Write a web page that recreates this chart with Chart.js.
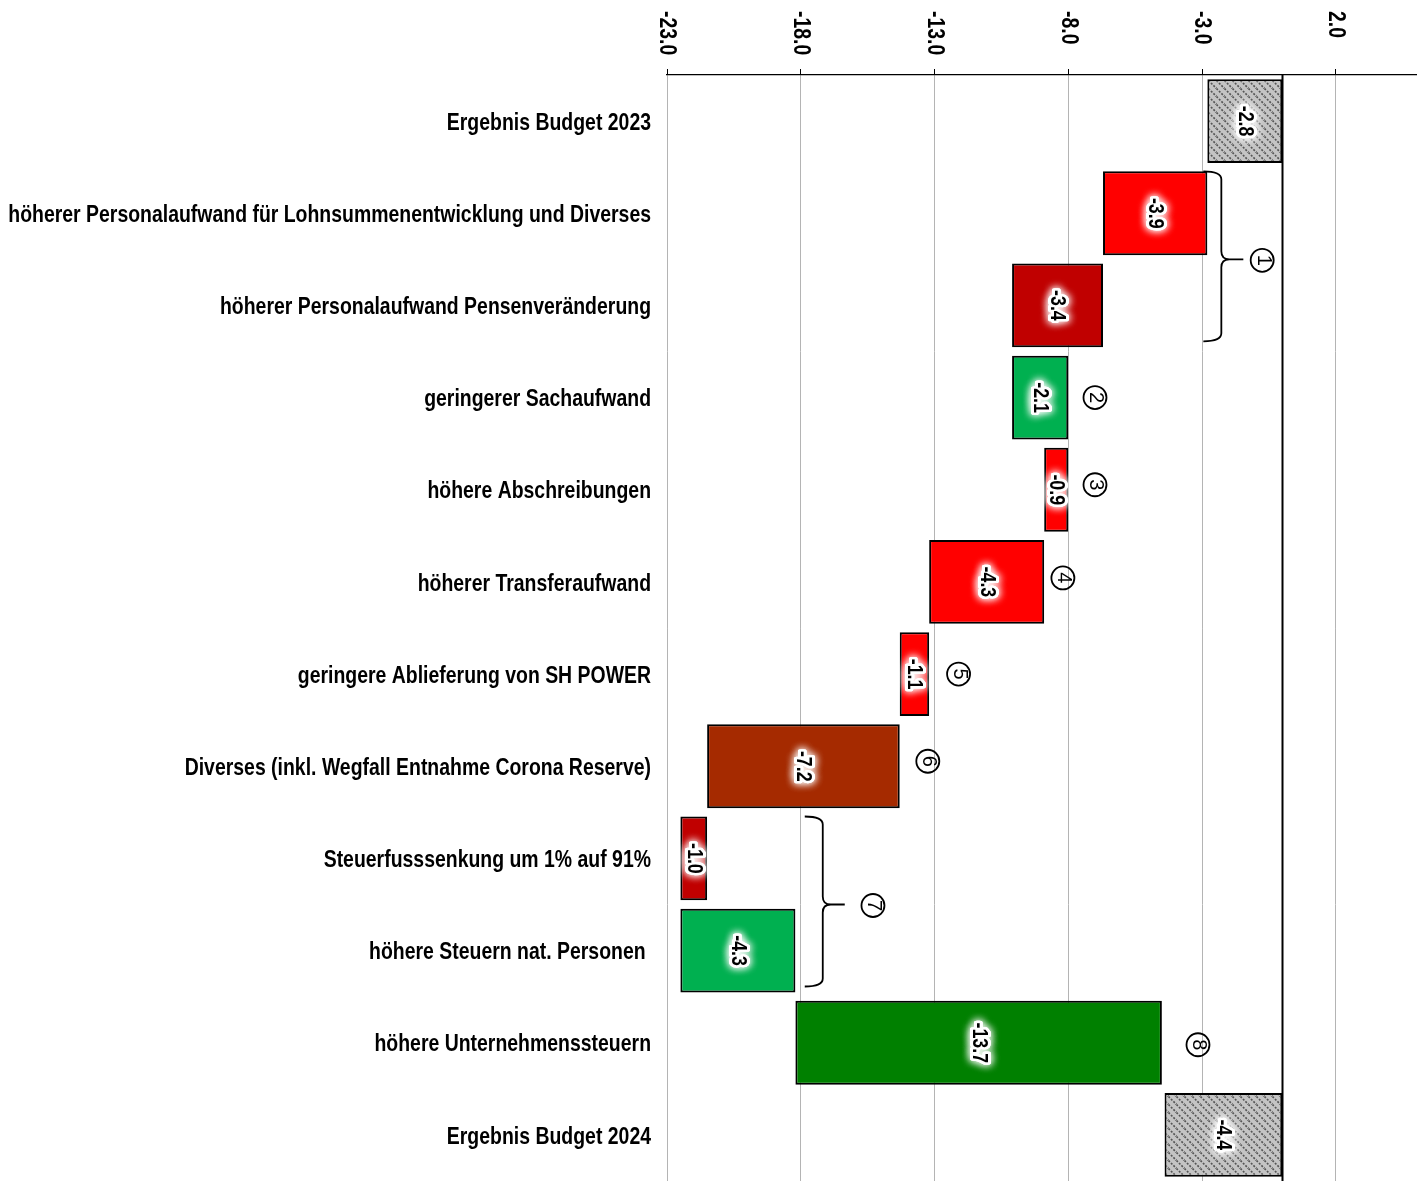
<!DOCTYPE html>
<html>
<head>
<meta charset="utf-8">
<script src="https://cdn.jsdelivr.net/npm/chart.js@4"></script>
<style>
  html, body { margin: 0; padding: 0; background: #fff; overflow: hidden; }
  canvas { display: block; }
</style>
</head>
<body>
<canvas id="chart" width="1423" height="1188"></canvas>
<script>
/* Budget bridge 2023 -> 2024, horizontal waterfall */

var categories = [
  'Ergebnis Budget 2023',
  'höherer Personalaufwand für Lohnsummenentwicklung und Diverses',
  'höherer Personalaufwand Pensenveränderung',
  'geringerer Sachaufwand',
  'höhere Abschreibungen',
  'höherer Transferaufwand',
  'geringere Ablieferung von SH POWER',
  'Diverses (inkl. Wegfall Entnahme Corona Reserve)',
  'Steuerfusssenkung um 1% auf 91%',
  'höhere Steuern nat. Personen ',
  'höhere Unternehmenssteuern',
  'Ergebnis Budget 2024'
];
var amounts = [-2.8, -3.9, -3.4, -2.1, -0.9, -4.3, -1.1, -7.2, -1.0, -4.3, -13.7, -4.4];
// total = start/end bar, gain = bar runs to the right
var kinds = ['total', 'loss', 'loss2', 'gain', 'loss', 'loss', 'loss', 'misc', 'loss2', 'gain', 'gain2', 'total'];
var xTicks = [-23, -18, -13, -8, -3, 2];

// no narrow face installed: squeeze Liberation Sans horizontally instead
var FONT = "'Liberation Sans', Arial, sans-serif";
var NARROW = 0.81;

function hatch() {
  var c = document.createElement('canvas');
  c.width = 8; c.height = 8;
  var g = c.getContext('2d');
  g.fillStyle = '#c4c4c4';
  g.fillRect(0, 0, 8, 8);
  g.strokeStyle = '#555';
  g.lineWidth = 1.6;
  g.setLineDash([2, 1.5]);
  g.beginPath();
  g.moveTo(-2, -2); g.lineTo(10, 10);
  g.moveTo(-6, 2); g.lineTo(6, 14);
  g.moveTo(2, -6); g.lineTo(14, 6);
  g.stroke();
  return g.createPattern(c, 'repeat');
}

var kindColor = {
  total: hatch(),
  loss:  '#ff0000',
  loss2: '#c00000',
  gain:  '#00b050',
  gain2: '#008000',
  misc:  '#a52a00'
};

// floating ranges for each step
var run = 0;
var ranges = amounts.map(function(v, i) {
  if (kinds[i] === 'total') {
    run = v;
    return [v, 0];
  }
  var step = (kinds[i] === 'gain' || kinds[i] === 'gain2') ? -v : v;
  var start = run;
  run = Math.round((run + step) * 10) / 10;
  return [start, run];
});

function fmt(v) { return v.toFixed(1); }

// text turned 90° clockwise, squeezed along its baseline
function rotText(ctx, txt, x, y, align, squeeze) {
  ctx.save();
  ctx.translate(x, y);
  ctx.rotate(Math.PI / 2);
  ctx.scale(squeeze || 1, 1);
  ctx.textAlign = align || 'center';
  ctx.textBaseline = 'middle';
  ctx.fillText(txt, 0, 0);
  ctx.restore();
}

function circled(ctx, digit, x, y) {
  ctx.save();
  ctx.strokeStyle = '#000';
  ctx.lineWidth = 1.8;
  ctx.beginPath();
  ctx.arc(x, y, 11.5, 0, Math.PI * 2);
  ctx.stroke();
  ctx.font = '20px ' + FONT;
  ctx.fillStyle = '#000';
  rotText(ctx, digit, x + 1, y, 'center', 1);
  ctx.restore();
}

var extras = {
  id: 'extras',
  afterDatasetsDraw: function(chart) {
    var ctx = chart.ctx, xs = chart.scales.x, ys = chart.scales.y, a = chart.chartArea;

    // zero line
    var x0 = Math.round(xs.getPixelForValue(0)) + 0.5;
    ctx.save();
    ctx.strokeStyle = '#000';
    ctx.lineWidth = 2;
    ctx.beginPath();
    ctx.moveTo(x0, a.top);
    ctx.lineTo(x0, a.bottom);
    ctx.stroke();
    ctx.restore();

    // category labels
    ctx.save();
    ctx.font = 'bold 24px ' + FONT;
    ctx.fillStyle = '#000';
    ctx.textAlign = 'right';
    ctx.textBaseline = 'middle';
    categories.forEach(function(c, i) {
      ctx.save();
      ctx.translate(a.left - 16, ys.getPixelForValue(i) + 2);
      ctx.scale(NARROW, 1);
      ctx.fillText(c, 0, 0);
      ctx.restore();
    });
    ctx.restore();

    // value labels with white halo
    var meta = chart.getDatasetMeta(0);
    ctx.save();
    ctx.font = 'bold 22px ' + FONT;
    meta.data.forEach(function(bar, i) {
      var txt = fmt(amounts[i]);
      var p = bar.getCenterPoint();
      ctx.save();
      ctx.translate(p.x, p.y);
      ctx.rotate(Math.PI / 2);
      ctx.scale(NARROW, 1);
      ctx.textAlign = 'center';
      ctx.textBaseline = 'middle';
      ctx.shadowColor = '#fff';
      ctx.shadowBlur = 8;
      ctx.strokeStyle = '#fff';
      ctx.lineWidth = 6;
      ctx.lineJoin = 'round';
      ctx.strokeText(txt, 0, 0);
      ctx.strokeText(txt, 0, 0);
      ctx.shadowBlur = 0;
      ctx.fillStyle = '#000';
      ctx.fillText(txt, 0, 0);
      ctx.restore();
    });
    ctx.restore();

    // x tick labels, rotated
    ctx.save();
    ctx.font = 'bold 24px ' + FONT;
    ctx.fillStyle = '#000';
    xTicks.forEach(function(v) {
      rotText(ctx, fmt(v), xs.getPixelForValue(v), 11, 'left', NARROW);
    });
    ctx.restore();

    // braces grouping rows
    var braces = [
      { from: 1, to: 2, at: -2.95, mark: '1', markAt: -0.75 },
      { from: 8, to: 9, at: -17.85, mark: '7', markAt: -15.3 }
    ];
    var step = ys.getPixelForValue(1) - ys.getPixelForValue(0);
    var inset = step * 0.91 / 2;
    ctx.save();
    ctx.strokeStyle = '#000';
    ctx.lineWidth = 1.8;
    braces.forEach(function(b) {
      var bx = xs.getPixelForValue(b.at);
      var top = ys.getPixelForValue(b.from) - inset;
      var bot = ys.getPixelForValue(b.to) + inset - 6;
      var mid = (top + bot) / 2 + 3;
      var w = 18, r = 8;
      ctx.beginPath();
      ctx.moveTo(bx, top);
      ctx.quadraticCurveTo(bx + w, top, bx + w, top + r);
      ctx.lineTo(bx + w, mid - r);
      ctx.quadraticCurveTo(bx + w, mid, bx + w + 8, mid);
      ctx.lineTo(bx + w + 22, mid);
      ctx.moveTo(bx + w + 8, mid);
      ctx.quadraticCurveTo(bx + w, mid, bx + w, mid + r);
      ctx.lineTo(bx + w, bot - r);
      ctx.quadraticCurveTo(bx + w, bot, bx, bot);
      ctx.stroke();
      circled(ctx, b.mark, xs.getPixelForValue(b.markAt), mid + 1);
    });
    ctx.restore();

    // circled notes next to single rows
    var notes = [
      { row: 3, mark: '2', at: -7.0, dy: 0 },
      { row: 4, mark: '3', at: -7.0, dy: -5 },
      { row: 5, mark: '4', at: -8.2, dy: -4 },
      { row: 6, mark: '5', at: -12.1, dy: 0 },
      { row: 7, mark: '6', at: -13.25, dy: -5 },
      { row: 10, mark: '8', at: -3.15, dy: 2 }
    ];
    notes.forEach(function(n) {
      circled(ctx, n.mark, xs.getPixelForValue(n.at), ys.getPixelForValue(n.row) + n.dy);
    });
  }
};

new Chart(document.getElementById('chart'), {
  type: 'bar',
  data: {
    labels: categories,
    datasets: [{
      data: ranges,
      backgroundColor: kinds.map(function(k) { return kindColor[k]; }),
      borderColor: '#000',
      borderWidth: 2,
      borderSkipped: false,
      barPercentage: 0.91,
      categoryPercentage: 1
    }]
  },
  options: {
    indexAxis: 'y',
    responsive: false,
    animation: false,
    layout: { padding: { top: 0, right: 7, bottom: 7, left: 0 } },
    plugins: {
      legend: { display: false },
      tooltip: { enabled: false }
    },
    scales: {
      x: {
        position: 'top',
        min: -23,
        max: 5,
        afterBuildTicks: function(s) {
          s.ticks = xTicks.map(function(v) { return { value: v }; });
        },
        afterFit: function(s) { s.height = 75; },
        grid: { color: '#b4b4b4', lineWidth: 1, tickColor: '#000', tickLength: 6 },
        border: { color: '#000', width: 1.2 },
        ticks: { display: false }
      },
      y: {
        afterFit: function(s) { s.width = 667; },
        grid: { display: false, drawTicks: false },
        border: { display: false },
        ticks: { display: false }
      }
    }
  },
  plugins: [extras]
});
</script>
</body>
</html>
